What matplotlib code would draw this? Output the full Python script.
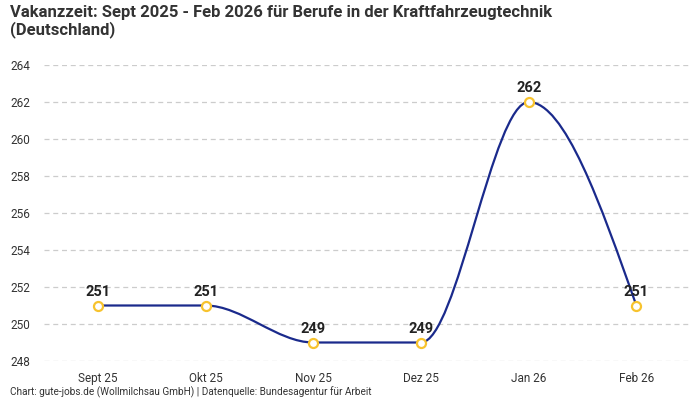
import matplotlib.pyplot as plt
import numpy as np
from matplotlib.path import Path
from matplotlib.patches import PathPatch

plt.rcParams['font.family'] = ['Roboto', 'DejaVu Sans']

monate = ['Sept 25', 'Okt 25', 'Nov 25', 'Dez 25', 'Jan 26', 'Feb 26']
tage = [251, 251, 249, 249, 262, 251]

linie = '#1a2a8c'
punkt = '#f7c32e'


def monotone_pfad(xs, ys):
    # monotone Kurve wie d3.curveMonotoneX, als Bezier-Pfad
    xs = np.asarray(xs, float)
    ys = np.asarray(ys, float)
    n = len(xs)
    h = np.diff(xs)
    s = np.diff(ys) / h
    t = np.zeros(n)
    for i in range(1, n - 1):
        p = (s[i - 1] * h[i] + s[i] * h[i - 1]) / (h[i - 1] + h[i])
        t[i] = (np.sign(s[i - 1]) + np.sign(s[i])) * min(abs(s[i - 1]), abs(s[i]), 0.5 * abs(p))
    t[0] = (3 * s[0] - t[1]) / 2
    t[-1] = (3 * s[-1] - t[-2]) / 2
    verts = [(xs[0], ys[0])]
    codes = [Path.MOVETO]
    for i in range(n - 1):
        dx = h[i] / 3
        verts += [(xs[i] + dx, ys[i] + dx * t[i]),
                  (xs[i + 1] - dx, ys[i + 1] - dx * t[i + 1]),
                  (xs[i + 1], ys[i + 1])]
        codes += [Path.CURVE4] * 3
    return Path(verts, codes)


fig = plt.figure(figsize=(7, 4), dpi=100)
ax = fig.add_axes([0.063, 0.0975, 0.923, 0.74])

x = np.arange(len(monate))
ax.add_patch(PathPatch(monotone_pfad(x, tage), facecolor='none', edgecolor=linie, lw=1.6, zorder=3))
ax.plot(x, tage, 'o', ms=6.5, mfc='white', mec=punkt, mew=1.6, zorder=4)

for xi, v in zip(x, tage):
    ax.annotate(str(v), (xi, v), xytext=(0, 5), textcoords='offset points',
                ha='center', va='bottom', fontsize=10.5, fontweight='bold', color='#222222', zorder=5)

ax.set_xlim(-0.5, 5.5)
ax.set_ylim(248, 264)
ax.set_yticks(range(248, 265, 2))
ax.set_xticks(x)
ax.set_xticklabels(monate)
ax.tick_params(length=0, labelsize=8.5, colors='#333333')
ax.tick_params(axis='y', pad=24.5)
ax.tick_params(axis='x', pad=8)
for lbl in ax.get_yticklabels():
    lbl.set_horizontalalignment('left')
ax.grid(axis='y', color='#cccccc', ls=(0, (4, 3)), lw=0.9)
ax.set_axisbelow(True)
for sp in ax.spines.values():
    sp.set_visible(False)

fig.text(0.014, 0.988, 'Vakanzzeit: Sept 2025 - Feb 2026 für Berufe in der Kraftfahrzeugtechnik\n(Deutschland)',
         ha='left', va='top', fontsize=12, fontweight='bold', color='#333333', linespacing=1.1)
fig.text(0.014, 0.005, 'Chart: gute-jobs.de (Wollmilchsau GmbH) | Datenquelle: Bundesagentur für Arbeit',
         ha='left', va='bottom', fontsize=7.2, color='#333333')

fig.savefig('out.png', dpi=100)
